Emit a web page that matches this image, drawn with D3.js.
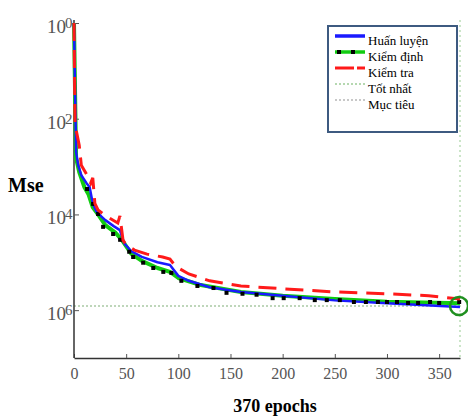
<!DOCTYPE html>
<html>
<head>
<meta charset="utf-8">
<script src="https://cdn.jsdelivr.net/npm/d3@7"></script>
<style>
  html, body { margin: 0; padding: 0; background: #fff; }
  svg text { font-family: "Liberation Serif", "Times New Roman", "DejaVu Serif", serif !important; }
</style>
</head>
<body>
<svg id="chart" width="468" height="417"></svg>
<script>
'use strict';

// ── Data ───────────────────────────────────────────────────────────────────
const trainEpochs = [0, 2, 4, 7, 12, 15, 18, 22, 30, 38, 44, 48, 55, 65, 80, 92, 100, 110, 130, 160, 200, 250, 300, 370];
const trainMse    = [1, 2.0e-3, 1.07e-3, 6.6e-4, 4.5e-4, 3.7e-4, 1.7e-4, 1.1e-4, 7.6e-5, 5.7e-5, 4.7e-5, 2.5e-5, 1.7e-5,
                     1.3e-5, 1.0e-5, 8.8e-6, 5.2e-6, 4.1e-6, 3.0e-6, 2.4e-6, 2.0e-6, 1.6e-6, 1.4e-6, 1.17e-6];

const valEpochs = [0, 2, 5, 10, 14, 18, 24, 30, 40, 46, 55, 65, 80, 92, 100, 120, 160, 200, 250, 300, 370];
const valMse    = [1, 1.5e-3, 7.7e-4, 3.7e-4, 2.6e-4, 1.4e-4, 9.3e-5, 6.0e-5, 4.1e-5, 2.9e-5, 1.5e-5, 1.07e-5,
                   7.6e-6, 6.3e-6, 4.7e-6, 3.4e-6, 2.4e-6, 2.0e-6, 1.7e-6, 1.5e-6, 1.4e-6];

const valDotEpochs = [12.5, 18.3, 23.1, 27.9, 37.5, 44.2, 52.9, 56.7, 66.3, 76, 85.6, 93.3, 102.9, 118.3, 133.7, 146.2,
                      161.5, 175, 190.4, 201, 216.3, 230.8, 242.3, 254.8, 268.3, 279.8, 291.3, 300, 309.6, 320.2,
                      329.8, 341.3, 350, 369.2];
const valDotMse    = [3.4e-4, 1.66e-4, 1.02e-4, 5.5e-5, 3.9e-5, 2.95e-5, 1.66e-5, 1.29e-5, 9.8e-6, 7.6e-6, 6.3e-6,
                      6.0e-6, 4.1e-6, 3.2e-6, 2.9e-6, 2.3e-6, 2.2e-6, 2.1e-6, 1.78e-6, 1.78e-6, 1.78e-6, 1.62e-6,
                      1.62e-6, 1.62e-6, 1.48e-6, 1.48e-6, 1.48e-6, 1.48e-6, 1.48e-6, 1.41e-6, 1.41e-6, 1.48e-6,
                      1.41e-6, 1.48e-6];

const testEpochs = [0, 1, 3, 5, 7, 14, 16, 18, 20, 23, 28, 34, 42, 44, 47, 50, 58, 70, 85, 92, 96, 100, 110, 130, 160,
                    200, 250, 300, 340, 370];
const testMse    = [1, 7.4e-3, 4.6e-3, 2.8e-3, 1.07e-3, 5.8e-4, 4.5e-4, 5.8e-4, 1.7e-4, 1.24e-4, 1.02e-4, 8.4e-5,
                    6.6e-5, 9.3e-5, 2.9e-5, 2.3e-5, 1.8e-5, 1.48e-5, 1.29e-5, 1.17e-5, 9.0e-6, 7.6e-6, 5.7e-6,
                    4.1e-6, 3.2e-6, 2.8e-6, 2.4e-6, 2.2e-6, 2.0e-6, 1.7e-6];

const bestEpoch = 370;
const bestMse   = 1.22e-6;

const xTicks    = [0, 50, 100, 150, 200, 250, 300, 350];
const yTicks    = [1, 1e-2, 1e-4, 1e-6];
const yTickSups = ['0', '2', '4', '6'];

const legendLabels = ['Huấn luyện', 'Kiểm định', 'Kiểm tra', 'Tốt nhất', 'Mục tiêu'];

// ── Layout ────────────────────────────────────────────────────────────────
const SERIF = '"Liberation Serif", "Times New Roman", serif';
const svg = d3.select('#chart').attr('font-family', SERIF);

const x = d3.scaleLinear().domain([0, 370]).range([74, 460]);
const y = d3.scaleLog().domain([1e-7, 1]).range([358, 23]);

const line = d3.line().x(d => x(d[0])).y(d => y(d[1]));
const zip = (a, b) => a.map((v, i) => [v, b[i]]);

// best cross-hair (dotted green)
svg.append('line')
  .attr('x1', x(0)).attr('x2', x(bestEpoch))
  .attr('y1', y(bestMse)).attr('y2', y(bestMse))
  .attr('stroke', '#a9c9a4').attr('stroke-width', 1.5).attr('stroke-dasharray', '2,2');
svg.append('line')
  .attr('x1', x(bestEpoch)).attr('x2', x(bestEpoch))
  .attr('y1', 20).attr('y2', 358)
  .attr('stroke', '#a9d4a4').attr('stroke-width', 1.2).attr('stroke-dasharray', '2,3');

// axes
const xAxis = svg.append('g')
  .attr('transform', 'translate(0,358)')
  .call(d3.axisBottom(x).tickValues(xTicks).tickSizeInner(-4).tickSizeOuter(0).tickPadding(10));
xAxis.attr('font-family', SERIF);
xAxis.select('.domain').attr('stroke', '#333').attr('stroke-width', 1.5);
xAxis.selectAll('.tick line').attr('stroke', '#555');
xAxis.selectAll('text')
  .attr('font-size', 16).attr('fill', '#555');

const yAxis = svg.append('g')
  .attr('transform', 'translate(74,0)')
  .call(d3.axisLeft(y).tickValues(yTicks).tickSizeInner(-5).tickSizeOuter(0).tickFormat(''));
yAxis.select('.domain').attr('stroke', '#333').attr('stroke-width', 1.5)
  .attr('d', 'M0,20V358');
yAxis.selectAll('.tick line').attr('stroke', '#555');

const yLab = svg.append('g').attr('fill', '#555');
yTicks.forEach((t, i) => {
  yLab.append('text')
    .attr('x', 66).attr('y', y(t) + 10)
    .attr('text-anchor', 'end')
    .attr('font-size', 19)
    .text('10');
  yLab.append('text')
    .attr('x', 65).attr('y', y(t) + 5)
    .attr('font-size', 15)
    .text(yTickSups[i]);
});

// series
svg.append('path').datum(zip(valEpochs, valMse))
  .attr('d', line).attr('fill', 'none')
  .attr('stroke', '#11cc11').attr('stroke-width', 4).attr('stroke-linejoin', 'round');

svg.append('path').datum(zip(trainEpochs, trainMse))
  .attr('d', line).attr('fill', 'none')
  .attr('stroke', '#1a1aff').attr('stroke-width', 2.5).attr('stroke-linejoin', 'round');

svg.append('g').selectAll('rect')
  .data(zip(valDotEpochs, valDotMse))
  .join('rect')
  .attr('x', d => x(d[0]) - 2).attr('y', d => y(d[1]) - 2)
  .attr('width', 4).attr('height', 4)
  .attr('fill', '#000');

svg.append('path').datum(zip(testEpochs, testMse))
  .attr('d', line).attr('fill', 'none')
  .attr('stroke', '#ff1a1a').attr('stroke-width', 3).attr('stroke-dasharray', '18,9');

// best marker circle
svg.append('circle')
  .attr('cx', x(bestEpoch) - 1).attr('cy', y(bestMse))
  .attr('r', 9)
  .attr('fill', 'none').attr('stroke', '#1f8f1f').attr('stroke-width', 2.5);

// axis titles
svg.append('text')
  .attr('x', 8).attr('y', 192)
  .attr('font-size', 20).attr('font-weight', 'bold')
  .text('Mse');
svg.append('text')
  .attr('x', 275).attr('y', 412)
  .attr('text-anchor', 'middle')
  .attr('font-size', 18).attr('font-weight', 'bold')
  .text('370 epochs');

// ── Legend ────────────────────────────────────────────────────────────────
const lg = svg.append('g');
lg.append('rect')
  .attr('x', 328).attr('y', 26).attr('width', 129).attr('height', 106)
  .attr('fill', '#fff').attr('stroke', '#3d5a80').attr('stroke-width', 2);

const legendStyles = [
  { stroke: '#1a1aff', width: 3.5, dash: null },
  { stroke: '#11cc11', width: 3.5, dash: null, dots: true },
  { stroke: '#ff1a1a', width: 3,   dash: '19,3' },
  { stroke: '#b5d8b0', width: 2,   dash: '2,2' },
  { stroke: '#c8c8c8', width: 2,   dash: '2,2' },
];

legendLabels.forEach((label, i) => {
  const base = 45 + i * 16;
  const ly = base - 9;
  const s = legendStyles[i];
  lg.append('line')
    .attr('x1', 335).attr('x2', 365).attr('y1', ly).attr('y2', ly)
    .attr('stroke', s.stroke).attr('stroke-width', s.width)
    .attr('stroke-dasharray', s.dash);
  if (s.dots) {
    [339, 353].forEach(px => {
      lg.append('rect').attr('x', px - 2).attr('y', ly - 2)
        .attr('width', 4).attr('height', 4).attr('fill', '#000');
    });
  }
  lg.append('text')
    .attr('x', 368).attr('y', base)
    .attr('font-size', 13)
    .text(label);
});
</script>
</body>
</html>
